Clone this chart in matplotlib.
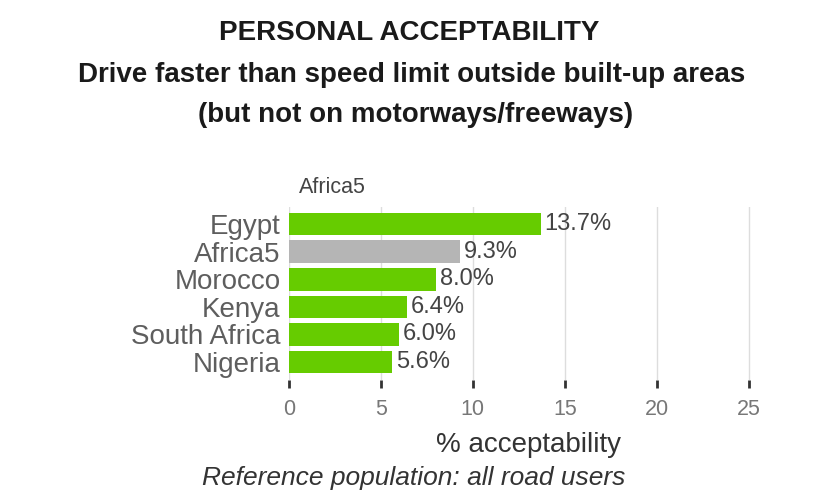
import matplotlib.pyplot as plt

# data
countries = ["Egypt", "Africa5", "Morocco", "Kenya", "South Africa", "Nigeria"]
values = [13.7, 9.3, 8.0, 6.4, 6.0, 5.6]
bar_colors = ["#66cc00", "#b5b5b5", "#66cc00", "#66cc00", "#66cc00", "#66cc00"]
xticks = [0, 5, 10, 15, 20, 25]

plt.rcParams['font.family'] = ['Liberation Sans', 'DejaVu Sans']

fig = plt.figure(figsize=(8.36, 4.91), dpi=100)
ax = fig.add_axes([289 / 836, 1 - 380 / 491, (767 - 289) / 836, (380 - 207) / 491])

ypos = list(range(len(countries)))
ax.barh(ypos, values, height=0.82, color=bar_colors, zorder=3)
for y, v in zip(ypos, values):
    ax.text(v + 0.2, y, f"{v:.1f}%", va='center', ha='left', fontsize=17, color='#444444', zorder=4)

ax.set_xlim(0, 26)
ax.set_ylim(5.65, -0.62)
ax.set_yticks(ypos)
ax.set_yticklabels(countries, fontsize=20, color='#5e5e5e')
ax.set_xticks(xticks)
ax.set_xticklabels([str(t) for t in xticks], fontsize=15.5, color='#777777')
ax.tick_params(axis='y', length=0, pad=6)
ax.tick_params(axis='x', length=6, width=2, color='#333333', pad=8)
ax.grid(axis='x', color='#dddddd', linewidth=1, zorder=0)
for s in ax.spines.values():
    s.set_visible(False)

ax.set_xlabel("% acceptability", fontsize=20, color='#333333', labelpad=8)
ax.text(0.02, 1.05, "Africa5", transform=ax.transAxes, ha='left', va='bottom',
        fontsize=15.5, color='#444444')

title_kw = dict(ha='center', va='center', fontsize=20, fontweight='bold', color='#1a1a1a')
fig.text(0.49, 0.932, "PERSONAL ACCEPTABILITY", **title_kw)
fig.text(0.492, 0.847, "Drive faster than speed limit outside built-up areas", **title_kw)
fig.text(0.497, 0.766, "(but not on motorways/freeways)", **title_kw)
fig.text(0.495, 0.027, "Reference population: all road users", ha='center', va='center',
         fontsize=19, style='italic', color='#333333')

fig.savefig("out.png", dpi=100)
